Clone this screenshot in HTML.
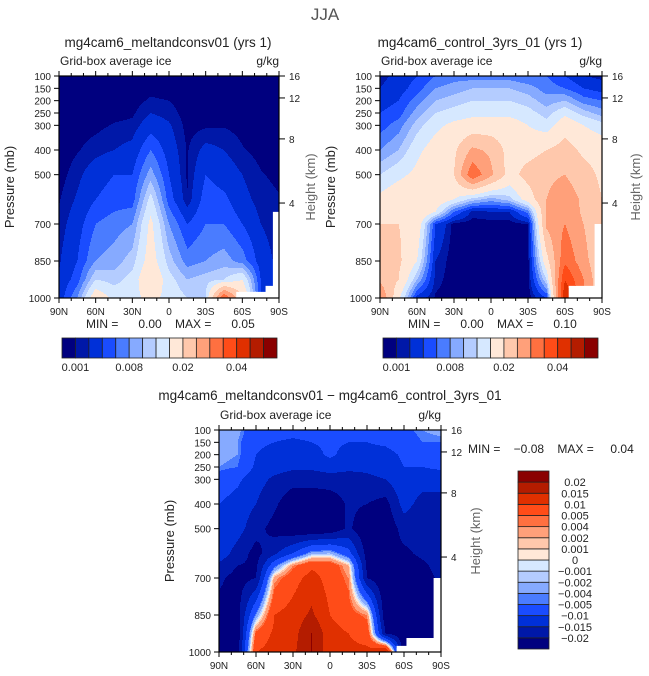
<!DOCTYPE html>
<html><head><meta charset="utf-8">
<style>
html,body{margin:0;padding:0;background:#fff;}
svg{display:block;font-family:"Liberation Sans",sans-serif;fill:#222;}
text{white-space:pre;}
</style></head><body>
<svg id="fig" width="649" height="676" viewBox="0 0 649 676" xml:space="preserve">
<text x="325" y="20" font-size="17" text-anchor="middle" fill="#555">JJA</text>
</svg>
<script>
// ---------- data ----------
const lats = [90,75,60,45,30,15,0,-15,-30,-45,-60,-75,-90];
const levels = [100,150,200,250,300,400,500,600,650,700,850,925,1000];
const absThresholds = [0.001,0.002,0.004,0.006,0.008,0.01,0.012,0.015,0.02,0.025,0.03,0.035,0.04,0.045,0.05];
const absLabels = ["0.001","0.008","0.02","0.04"];
const absLabelIdx = [0,4,8,12];
const diffThresholds = [-0.02,-0.015,-0.01,-0.005,-0.004,-0.002,-0.001,0,0.001,0.002,0.004,0.005,0.01,0.015,0.02];
const diffLabels = ["-0.02","-0.015","-0.01","-0.005","-0.004","-0.002","-0.001","0","0.001","0.002","0.004","0.005","0.01","0.015","0.02"];
const palette = ["#00007f","#0018a8","#0030d8","#1a4cff","#4a7cff","#86aaff","#b4ccff","#d6e8ff","#ffe8d8","#ffc8ac","#ffa07a","#ff7040","#ff4c18","#e03000","#b41c00","#8a0000"];
const xTickLats = [90,60,30,0,-30,-60,-90];
const xTickLabels = ["90N","60N","30N","0","30S","60S","90S"];
const pTicks = [100,150,200,250,300,400,500,700,850,1000];
const heightTickP = [615,355,189,100];
const heightTickLabels = ["4","8","12","16"];

const meltField = [
[.0003,.0003,.0003,.0003,.0003,.0003,.0003,.0003,.0003,.0003,.0003,.0003,.0003],
[.0003,.0003,.0003,.0003,.0003,.0006,.0004,.0003,.0003,.0003,.0003,.0003,.0003],
[.0004,.0004,.0004,.0004,.0005,.0012,.0010,.0004,.0004,.0004,.0004,.0004,.0004],
[.0004,.0004,.0005,.0006,.0008,.0020,.0015,.0005,.0005,.0005,.0005,.0004,.0004],
[.0004,.0005,.0007,.0011,.0013,.0030,.0022,.0006,.0008,.0009,.0006,.0004,.0003],
[.0003,.0009,.0015,.0020,.0025,.0060,.0030,.0009,.0025,.0020,.0011,.0006,.0004],
[.0005,.0016,.0030,.0040,.0040,.0090,.0040,.0008,.0040,.0030,.0020,.0011,.0007],
[.0009,.0022,.0040,.0050,.0050,.0130,.0050,.0011,.0050,.0045,.0025,.0015,.0011],
[.0011,.0026,.0050,.0060,.0065,.0145,.0065,.0025,.0055,.0052,.0032,.0017,.0012],
[.0013,.0030,.0060,.0070,.0080,.0160,.0080,.0040,.0060,.0060,.0040,.0020,.0012],
[.0018,.0040,.0080,.0090,.0110,.0170,.0110,.0070,.0080,.0090,.0070,.0030,.0015],
[.0022,.0050,.0120,.0110,.0130,.0190,.0130,.0100,.0110,.0120,.0150,.0040,.0020],
[.0025,.0080,.0180,.0140,.0140,.0160,.0140,.0120,.0120,.0350,.0200,.0040,.0020]];

const controlField = [
[.0015,.0025,.0040,.0060,.0070,.0070,.0070,.0070,.0060,.0060,.0040,.0020,.0015],
[.0020,.0030,.0050,.0080,.0090,.0100,.0100,.0100,.0090,.0070,.0060,.0040,.0030],
[.0030,.0040,.0070,.0100,.0110,.0120,.0120,.0120,.0110,.0090,.0100,.0070,.0060],
[.0040,.0050,.0090,.0120,.0130,.0140,.0140,.0140,.0130,.0110,.0140,.0110,.0090],
[.0050,.0070,.0110,.0140,.0160,.0170,.0170,.0170,.0150,.0130,.0180,.0150,.0130],
[.0080,.0100,.0140,.0170,.0190,.0260,.0240,.0180,.0180,.0200,.0220,.0190,.0180],
[.0120,.0140,.0160,.0190,.0200,.0340,.0260,.0180,.0220,.0240,.0250,.0220,.0190],
[.0160,.0180,.0200,.0180,.0150,.0110,.0090,.0110,.0170,.0250,.0280,.0240,.0200],
[.0170,.0190,.0200,.0150,.0060,.0015,.0020,.0020,.0070,.0250,.0290,.0240,.0200],
[.0200,.0200,.0180,.0040,.0005,.0005,.0005,.0005,.0010,.0260,.0300,.0250,.0200],
[.0220,.0210,.0150,.0020,.0003,.0003,.0003,.0003,.0005,.0180,.0340,.0270,.0200],
[.0240,.0200,.0100,.0015,.0003,.0003,.0003,.0003,.0005,.0120,.0400,.0300,.0200],
[.0300,.0160,.0030,.0008,.0003,.0003,.0003,.0003,.0003,.0040,.0450,.0300,.0200]];

const diffField = [
[-.003,-.003,-.008,-.008,-.008,-.008,-.008,-.008,-.008,-.007,-.006,-.004,-.003],
[-.003,-.004,-.009,-.010,-.011,-.010,-.009,-.010,-.010,-.009,-.007,-.005,-.005],
[-.003,-.004,-.010,-.012,-.012,-.012,-.009,-.012,-.012,-.012,-.009,-.008,-.007],
[-.004,-.005,-.011,-.013,-.014,-.014,-.013,-.014,-.014,-.013,-.010,-.010,-.009],
[-.007,-.009,-.013,-.016,-.018,-.018,-.017,-.017,-.016,-.015,-.011,-.013,-.013],
[-.010,-.012,-.015,-.019,-.024,-.024,-.024,-.019,-.020,-.022,-.013,-.017,-.017],
[-.011,-.013,-.018,-.022,-.024,-.025,-.024,-.019,-.024,-.024,-.018,-.019,-.018],
[-.012,-.017,-.022,-.016,-.010,-.003,-.002,-.008,-.022,-.022,-.021,-.019,-.017],
[-.016,-.020,-.021,-.006,.004,.009,.008,.002,-.021,-.023,-.023,-.021,-.018],
[-.019,-.022,-.020,.003,.008,.012,.008,.004,-.020,-.024,-.024,-.022,-.019],
[-.022,-.022,-.004,.010,.012,.016,.010,.007,.004,-.024,-.024,-.024,-.020],
[-.022,-.024,.006,.011,.013,.020,.012,.010,.008,-.020,-.024,-.024,-.020],
[-.024,-.022,.010,.012,.014,.020,.012,.011,.011,.018,-.024,-.024,-.020]];

const topo1Lat = [-55,-55,-79,-79,-85,-85,-90,-90];
const topo1P = [1000,975,975,951,951,651,651,1000];
const topo2Lat = [-63,-63,-84,-84,-90,-90];
const topo2P = [1000,951,951,700,700,1000];
const topo3Lat = [-54,-54,-62,-62,-84,-84,-90,-90];
const topo3P = [1000,975,975,943,943,700,700,1000];

// ---------- drawing ----------
const NS = "http://www.w3.org/2000/svg";
const svg = document.getElementById('fig');
function mk(tag, attrs, parent){const e=document.createElementNS(NS,tag);for(const k in attrs)e.setAttribute(k,attrs[k]);(parent||svg).appendChild(e);return e;}
function txt(s,x,y,size,anchor,parent){const t=mk('text',{x:x,y:y,'font-size':size,'text-anchor':anchor||'start'},parent);t.textContent=s;return t;}

function sample(field, lat, p){
  let ci=(90-lat)/15; ci=Math.max(0,Math.min(lats.length-1.0001,ci));
  const c0=Math.floor(ci), fc=ci-c0;
  let r0=0; while(r0<levels.length-2 && p>levels[r0+1]) r0++;
  let fr=(p-levels[r0])/(levels[r0+1]-levels[r0]); fr=Math.max(0,Math.min(1,fr));
  const a=field[r0][c0],b=field[r0][c0+1],c=field[r0+1][c0],d=field[r0+1][c0+1];
  return (a*(1-fc)+b*fc)*(1-fr)+(c*(1-fc)+d*fc)*fr;
}
function level(v,th){let i=0;while(i<th.length&&v>=th[i])i++;return i;}

function panel(name, x0, y0, w, h, field, th, topoLat, topoP, rightLabelX){
  const g=mk('g',{});
  
  
  const xs=lat=>x0+(90-lat)/180*w;
  const ys=p=>y0+(p-100)/900*h;
  const cells=mk('g',{'shape-rendering':'crispEdges'},g);
  
  
  for(let py=0;py<h;py++){
    const p=100+(py+0.5)/h*900;
    let runStart=0, runLev=-1;
    for(let px=0;px<=w;px++){
      let lv=-2;
      if(px<w){const lat=90-(px+0.5)/w*180; lv=level(sample(field,lat,p),th);}
      if(lv!==runLev){
        if(runLev>=0){
          const r=mk('rect',{x:x0+runStart,y:y0+py,width:px-runStart,height:1.05,fill:palette[runLev]},cells);
          
          
        }
        runStart=px; runLev=lv;
      }
    }
  }
  const pts=topoLat.map((la,i)=>xs(la)+','+ys(topoP[i])).join(' ');
  const tp=mk('polygon',{points:pts,fill:'#fff'},g);
  
  
  const fr=mk('rect',{x:x0,y:y0,width:w,height:h,fill:'none',stroke:'#000','stroke-width':1.2},g);
  
  
  for(let lat=90;lat>=-90;lat-=10){
    const x=xs(lat), major=(lat%30===0);
    mk('line',{x1:x,y1:y0+h,x2:x,y2:y0+h+(major?5:3),stroke:'#000'},g);
    mk('line',{x1:x,y1:y0,x2:x,y2:y0-(major?5:3),stroke:'#000'},g);
  }
  xTickLats.forEach((la,i)=>{const t=txt(xTickLabels[i],xs(la),y0+h+17,10,'middle',g);
    
    });
  pTicks.forEach(p=>{
    mk('line',{x1:x0,y1:ys(p),x2:x0-5,y2:ys(p),stroke:'#000'},g);
    const t=txt(String(p),x0-8,ys(p)+4,10,'end',g);
    
    
  });
  heightTickP.forEach((p,i)=>{
    mk('line',{x1:x0+w,y1:ys(p),x2:x0+w+6,y2:ys(p),stroke:'#000'},g);
    const t=txt(heightTickLabels[i],x0+w+10,ys(p)+4,10,'start',g);
    
    
  });
  const yt=txt('Pressure (mb)',0,0,13,'middle',g);
  yt.setAttribute('transform','translate('+(x0-45)+','+(y0+h/2)+') rotate(-90)');
  
  
  const ht=txt('Height (km)',0,0,13,'middle',g);
  ht.setAttribute('transform','translate('+rightLabelX+','+(y0+h/2)+') rotate(-90)');
  ht.setAttribute('fill','#666');
  
  
  const l=txt('Grid-box average ice',x0+1,y0-11,12,'start',g);
  
  
  const u=txt('g/kg',x0+w,y0-11,12,'end',g);
  
  
}

function hbar(name,x0,y0,w,h){
  const g=mk('g',{});
  
  
  const bw=w/palette.length;
  palette.forEach((c,i)=>{
    const r=mk('rect',{x:x0+i*bw,y:y0,width:bw,height:h,fill:c,stroke:'#222','stroke-width':0.8},g);
    
    
  });
  absLabelIdx.forEach((bi,i)=>{
    const t=txt(absLabels[i],x0+(bi+1)*bw,y0+h+13,11,'middle',g);
    
    
  });
}
function vbar(name,x0,y0,w,h){
  const g=mk('g',{});
  
  
  const bh=h/palette.length;
  palette.forEach((c,i)=>{
    const r=mk('rect',{x:x0,y:y0+h-(i+1)*bh,width:w,height:bh,fill:c,stroke:'#222','stroke-width':0.8},g);
    
    
  });
  diffLabels.forEach((s,i)=>{
    const t=txt(s.replace('-','\u2212'),x0+w+26,y0+h-(i+1)*bh+4,11,'middle',g);
    
    
  });
}

function title(s,x,y,name){const t=txt(s,x,y,13.5,'middle');}

title('mg4cam6_meltandconsv01 (yrs 1)',168,47,'panel1-title');
panel('panel-meltandconsv',59,76,220,222,meltField,absThresholds,topo1Lat,topo1P,315);
const m1=txt('MIN =      0.00    MAX =      0.05',86,328,12,'start');


hbar('panel1-colorbar',62,338,215,20);

title('mg4cam6_control_3yrs_01 (yrs 1)',480,47,'panel2-title');
panel('panel-control',380,76,222,222,controlField,absThresholds,topo2Lat,topo2P,640);
const m2=txt('MIN =      0.00    MAX =      0.10',408,328,12,'start');


hbar('panel2-colorbar',383,338,215,20);

title('mg4cam6_meltandconsv01 \u2212 mg4cam6_control_3yrs_01',330,400,'panel3-title');
panel('panel-difference',219,430,222,222,diffField,diffThresholds,topo3Lat,topo3P,480);
const m3=txt('MIN =    \u22120.08    MAX =     0.04',468,453,12,'start');


vbar('panel3-colorbar',518,471,31,178);
</script>
</body></html>
